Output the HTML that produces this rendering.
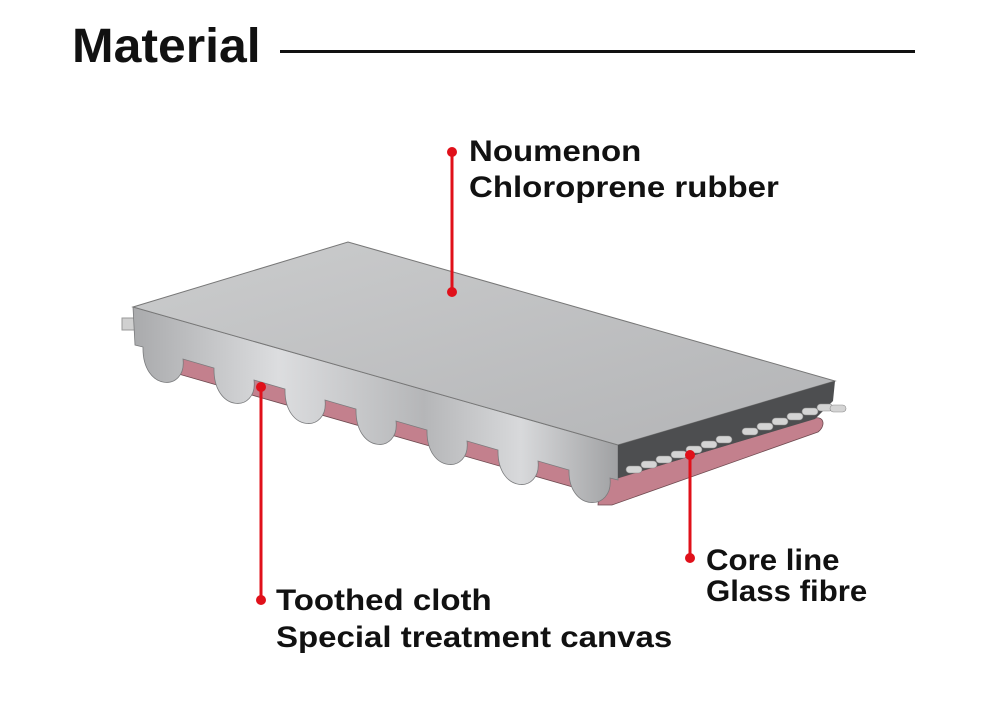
<!DOCTYPE html>
<html><head><meta charset="utf-8"><style>
html,body{margin:0;padding:0;background:#fff;}
body{width:1000px;height:723px;position:relative;overflow:hidden;font-family:"Liberation Sans",Arial,sans-serif;}
.t{position:absolute;font-weight:bold;color:#111;font-size:30px;line-height:1;white-space:nowrap;transform:scaleX(1.1);transform-origin:0 0;}
</style></head><body>
<div class="t" style="left:72px;top:23px;font-size:48px;transform:scaleX(1.04);">Material</div>
<div style="position:absolute;left:280px;top:50px;width:635px;height:3px;background:#111;"></div>
<svg width="1000" height="723" style="position:absolute;left:0;top:0">
<defs>
<linearGradient id="side" x1="0" y1="0" x2="1" y2="0">
<stop offset="0" stop-color="#a9aaac"/><stop offset="0.3" stop-color="#dcdddf"/><stop offset="0.6" stop-color="#b5b6b8"/><stop offset="0.8" stop-color="#d8d9db"/><stop offset="1" stop-color="#a0a1a3"/></linearGradient>
<linearGradient id="top" x1="0" y1="0" x2="1" y2="1">
<stop offset="0" stop-color="#cbcccd"/><stop offset="1" stop-color="#b3b4b6"/></linearGradient>
</defs>
<rect x="122" y="318" width="14" height="12" fill="#d0d0d0" stroke="#999"/>
<polygon points="175,351 618,478 618,500 175,373" fill="#c3808d" stroke="#6e4a50" stroke-width="0.8"/>
<path d="M600,478 L618,478 L815,418 C824,416 826,426 818,432 L612,505 L598,505 Z" fill="#c3808d" stroke="#6e4a50" stroke-width="0.8"/>
<path fill="url(#side)" stroke="#7a7b7d" stroke-width="0.8" d="M133,307 L618,445 L618,480
 L610,478 C614,512 568,512 569,470
 L538,461 C542,494 497,494 498,450
 L467,441 C471,474 426,474 427,430
 L396,421 C400,454 355,454 356,409
 L325,400 C329,433 284,433 285,389
 L254,380 C258,413 213,413 214,368
 L183,359 C187,392 142,392 143,347
 L135,345 Z"/>
<polygon points="133,307 348,242 835,381 618,445" fill="url(#top)" stroke="#777" stroke-width="1"/>
<polygon points="618,445 835,381 833,401 815,419 618,478" fill="#4d4e50"/>
<g fill="#d4d4d4" stroke="#8a8a8a" stroke-width="0.6">
<rect x="626" y="466" width="16" height="7" rx="3.5"/><rect x="641" y="461" width="16" height="7" rx="3.5"/><rect x="656" y="456" width="16" height="7" rx="3.5"/><rect x="671" y="451" width="16" height="7" rx="3.5"/><rect x="686" y="446" width="16" height="7" rx="3.5"/><rect x="701" y="441" width="16" height="7" rx="3.5"/><rect x="716" y="436" width="16" height="7" rx="3.5"/>
<rect x="742" y="428" width="16" height="7" rx="3.5"/><rect x="757" y="423" width="16" height="7" rx="3.5"/><rect x="772" y="418" width="16" height="7" rx="3.5"/><rect x="787" y="413" width="16" height="7" rx="3.5"/><rect x="802" y="408" width="16" height="7" rx="3.5"/><rect x="817" y="404" width="16" height="7" rx="3.5"/><rect x="830" y="405" width="16" height="7" rx="3.5"/>
</g>
<g stroke="#e0101a" stroke-width="3">
<line x1="452" y1="152" x2="452" y2="292"/>
<line x1="261" y1="387" x2="261" y2="600"/>
<line x1="690" y1="455" x2="690" y2="558"/>
</g>
<g fill="#e0101a">
<circle cx="452" cy="152" r="5"/><circle cx="452" cy="292" r="5"/>
<circle cx="261" cy="387" r="5"/><circle cx="261" cy="600" r="5"/>
<circle cx="690" cy="455" r="5"/><circle cx="690" cy="558" r="5"/>
</g>
</svg>
<div class="t" style="left:469px;top:137px;">Noumenon</div>
<div class="t" style="left:469px;top:173px;">Chloroprene rubber</div>
<div class="t" style="left:276px;top:586px;">Toothed cloth</div>
<div class="t" style="left:276px;top:623px;">Special treatment canvas</div>
<div class="t" style="left:706px;top:546px;transform:scaleX(1.04);">Core line</div>
<div class="t" style="left:706px;top:577px;transform:scaleX(1.04);">Glass fibre</div>
</body></html>
